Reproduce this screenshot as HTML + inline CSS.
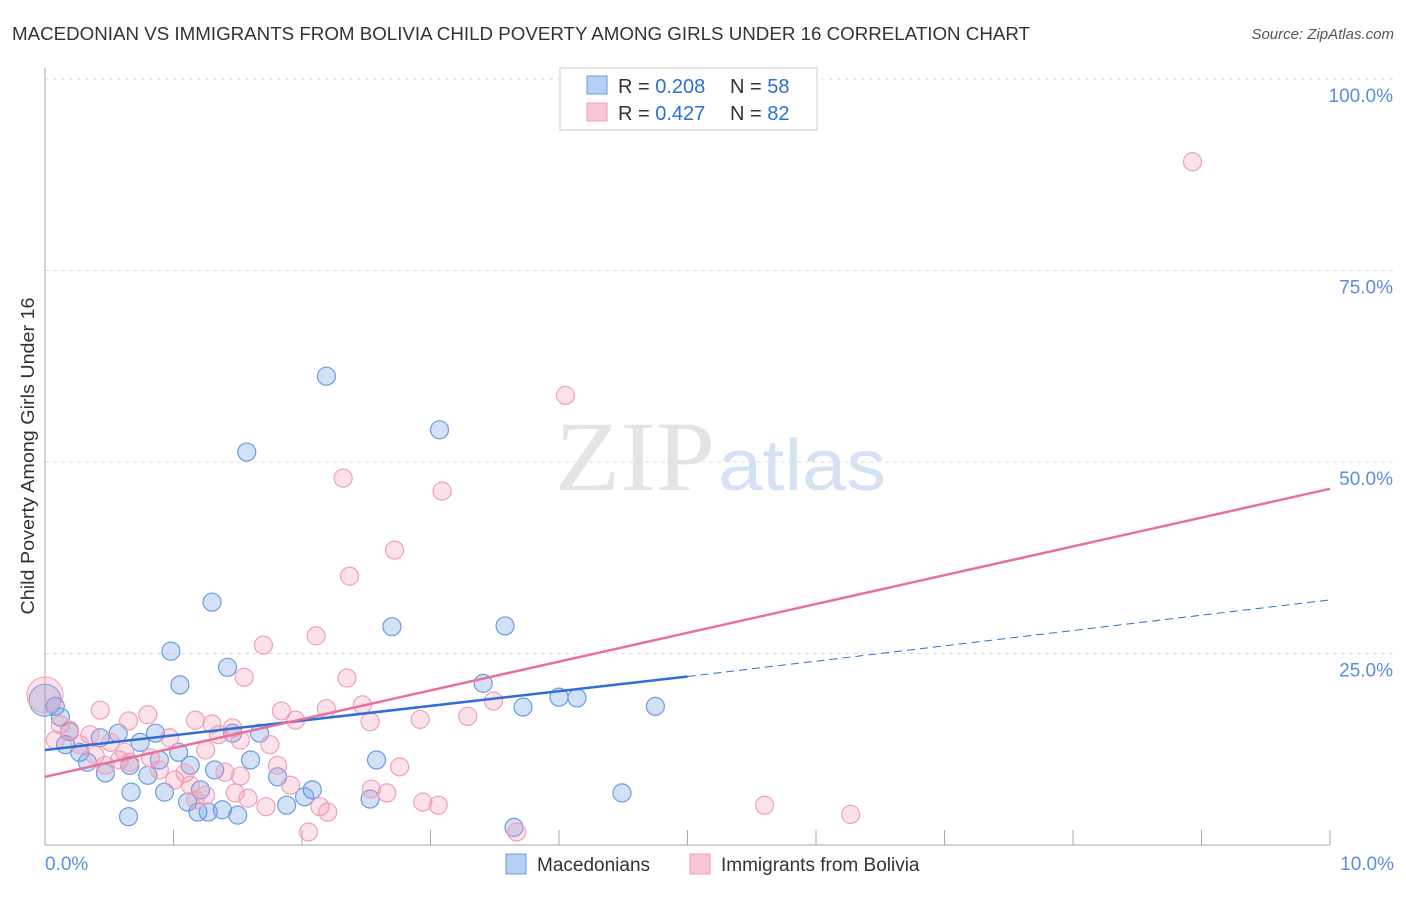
<!DOCTYPE html>
<html><head><meta charset="utf-8"><style>
body{margin:0;background:#fff;font-family:"Liberation Sans",sans-serif;}
</style></head><body>
<svg id="chart" width="1406" height="892" xmlns="http://www.w3.org/2000/svg" font-family="Liberation Sans, sans-serif">
<text x="12" y="40" font-size="18" fill="#333" textLength="1018" lengthAdjust="spacingAndGlyphs">MACEDONIAN VS IMMIGRANTS FROM BOLIVIA CHILD POVERTY AMONG GIRLS UNDER 16 CORRELATION CHART</text>
<text x="1394" y="39" font-size="15" fill="#555" text-anchor="end" font-style="italic">Source: ZipAtlas.com</text>
<text x="555" y="490" font-size="100" fill="#e4e4e4" textLength="160" lengthAdjust="spacingAndGlyphs" font-family="Liberation Serif, serif">ZIP</text>
<text x="718" y="490" font-size="72" fill="#d4e2f4" textLength="168" lengthAdjust="spacingAndGlyphs">atlas</text>
<g id="grid"></g><g id="axes"></g><g id="pts"></g><g id="lines"></g>
<text transform="translate(34,456) rotate(-90)" font-size="18" fill="#333" text-anchor="middle" textLength="317" lengthAdjust="spacingAndGlyphs">Child Poverty Among Girls Under 16</text>
<g>
<rect x="560" y="68" width="257" height="62" fill="#fff" stroke="#ccc"/>
<rect x="587" y="76" width="20" height="18" fill="#b7cff2" stroke="#6b9be0"/>
<rect x="587" y="103" width="20" height="18" fill="#f8c6d5" stroke="#f0a0b8"/>
<text x="618" y="93" font-size="20" fill="#333">R = <tspan fill="#2d6fd6">0.208</tspan></text>
<text x="730" y="93" font-size="20" fill="#333">N = <tspan fill="#2d6fd6">58</tspan></text>
<text x="618" y="120" font-size="20" fill="#333">R = <tspan fill="#2d6fd6">0.427</tspan></text>
<text x="730" y="120" font-size="20" fill="#333">N = <tspan fill="#2d6fd6">82</tspan></text>
</g>
<g>
<rect x="506" y="854" width="20" height="20" fill="#b7cff2" stroke="#6b9be0"/>
<text x="537" y="871" font-size="19" fill="#333">Macedonians</text>
<rect x="690" y="854" width="20" height="20" fill="#f8c6d5" stroke="#f0a0b8"/>
<text x="721" y="871" font-size="19" fill="#333">Immigrants from Bolivia</text>
</g>
</svg>
<script>
const blueX=[2.19,3.07,1.57,1.30,2.70,3.58,0.98,1.42,1.05,3.41,4.00,4.14,3.72,4.75,0.08,0.12,0.19,0.57,0.74,0.86,0.43,0.16,0.27,0.33,0.47,0.66,0.80,0.89,1.04,1.13,1.32,1.46,1.60,1.67,1.81,2.58,0.67,0.93,1.11,1.19,1.27,1.38,1.50,0.65,1.88,2.02,2.08,2.53,4.49,3.65,1.21];
const blueY=[61.2,54.2,51.3,31.7,28.5,28.6,25.3,23.2,20.9,21.1,19.3,19.2,18.0,18.1,18.1,16.7,14.8,14.6,13.4,14.6,14.0,13.1,12.1,10.8,9.4,10.4,9.1,11.1,12.1,10.4,9.8,14.6,11.1,14.6,8.9,11.1,6.9,6.9,5.6,4.3,4.3,4.6,3.9,3.7,5.2,6.3,7.2,6.0,6.8,2.3,7.2];
const pinkX=[8.93,4.05,2.32,3.09,2.72,2.37,2.11,1.70,1.55,2.35,0.43,0.65,0.80,1.17,1.30,1.46,1.84,1.95,2.19,2.47,2.53,2.92,3.29,3.49,0.12,0.19,0.35,0.51,0.62,0.97,1.25,1.35,1.52,1.75,0.89,1.09,1.40,1.52,1.81,2.76,0.08,0.27,0.39,0.58,0.82,1.13,1.25,1.48,1.58,1.72,1.91,2.14,2.20,2.05,2.54,2.66,2.94,3.06,3.67,5.60,6.27,0.47,0.66,1.01,1.17];
const pinkY=[89.2,58.7,47.9,46.2,38.5,35.1,27.3,26.1,21.9,21.8,17.6,16.2,17.0,16.3,15.8,15.3,17.5,16.3,17.8,18.3,16.1,16.4,16.8,18.8,15.7,15.0,14.4,13.4,12.1,14.0,12.4,14.4,13.7,13.1,9.8,9.4,9.5,9.0,10.4,10.2,13.7,13.1,11.7,11.1,11.4,7.8,6.5,6.8,6.1,5.0,7.8,5.0,4.3,1.7,7.3,6.8,5.6,5.2,1.7,5.2,4.0,10.4,10.8,8.5,5.9];
const blueBig=[0,18.9], pinkBig=[0,19.6];
const blueLine=[0,12.4,5,22.0,10,32.0];
const pinkLine=[0,8.9,10,46.5];
const yTicks=[25,50,75,100];
const xTicks=[0,1,2,3,4,5,6,7,8,9,10];
const NS="http://www.w3.org/2000/svg";
const sx=v=>45+v*128.5, sy=v=>845-v*7.66;
function mk(tag,attrs,parent){const e=document.createElementNS(NS,tag);for(const k in attrs)e.setAttribute(k,attrs[k]);document.getElementById(parent).appendChild(e);return e;}
yTicks.forEach(t=>{
 const l=mk('line',{x1:45,x2:1395,y1:sy(t),y2:sy(t),stroke:'#ddd','stroke-dasharray':'4,4'},'grid');
 
 
 const tx=mk('text',{x:1393,y:sy(t)+23,'font-size':19,fill:'#5a8ee0','text-anchor':'end'},'grid');
 tx.textContent=t.toFixed(1)+'%';
 
 
});
const ya=mk('line',{x1:45,x2:45,y1:68,y2:845,stroke:'#aaa'},'axes');


const xa=mk('line',{x1:45,x2:1330,y1:845,y2:845,stroke:'#aaa'},'axes');


xTicks.forEach(t=>{
 const l=mk('line',{x1:sx(t),x2:sx(t),y1:830,y2:845,stroke:'#aaa'},'axes');
 
 
});
[[0,'0.0%','start',45],[10,'10.0%','end',1394]].forEach(a=>{
 const tx=mk('text',{x:a[3],y:870,'font-size':19,fill:'#5a8ee0','text-anchor':a[2]},'axes');
 tx.textContent=a[1];
 
 
});
function pts(X,Y,fill,stroke,name){X.forEach((x,i)=>{
 const c=mk('circle',{cx:sx(x),cy:sy(Y[i]),r:9,fill:fill,stroke:stroke,'stroke-width':1.2},'pts');
 
 
});}
pts(blueX,blueY,'rgba(110,155,230,0.3)','#6b9be0','macedonian-point');
pts(pinkX,pinkY,'rgba(240,140,170,0.25)','#f0a0b8','bolivia-point');
const bb=mk('circle',{cx:sx(blueBig[0]),cy:sy(blueBig[1]),r:16,fill:'rgba(110,155,230,0.3)',stroke:'#6b9be0'},'pts');


const pb=mk('circle',{cx:sx(pinkBig[0]),cy:sy(pinkBig[1]),r:18,fill:'rgba(240,140,170,0.25)',stroke:'#f0a0b8'},'pts');


const b1=mk('line',{x1:sx(blueLine[0]),y1:sy(blueLine[1]),x2:sx(blueLine[2]),y2:sy(blueLine[3]),stroke:'#2d6fd6','stroke-width':2.5},'lines');


const b2=mk('line',{x1:sx(blueLine[2]),y1:sy(blueLine[3]),x2:sx(blueLine[4]),y2:sy(blueLine[5]),stroke:'#2d6fd6','stroke-width':1,'stroke-dasharray':'8,5'},'lines');


const p1=mk('line',{x1:sx(pinkLine[0]),y1:sy(pinkLine[1]),x2:sx(pinkLine[2]),y2:sy(pinkLine[3]),stroke:'#e8719a','stroke-width':2.5},'lines');


</script>
</body></html>
